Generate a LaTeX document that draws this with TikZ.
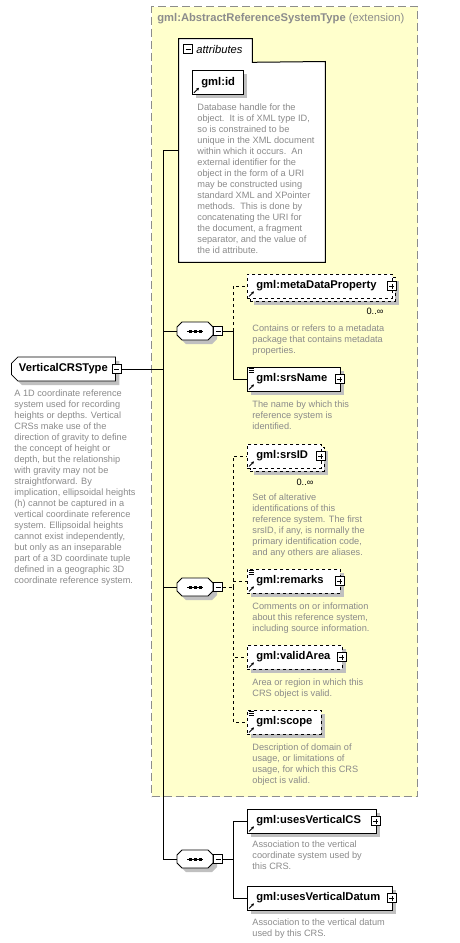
\documentclass[tikz,border=0pt]{standalone}
\usepackage{fontspec}
\setmainfont{Liberation Sans}
\usepackage{tikz}
\usetikzlibrary{arrows.meta,calc,fit,positioning,shapes.misc,shadows}
\definecolor{paleyellow}{HTML}{FFFFCC}
\definecolor{framegray}{HTML}{8C8C8C}
\definecolor{notegray}{HTML}{8A8A8A}
\definecolor{shadowgray}{HTML}{C0C0C0}
\newcommand\lblfont{\fontsize{11.2}{13}\selectfont\bfseries}
\newcommand\notefont{\fontsize{9.2}{11}\selectfont}

\begin{document}
\begin{tikzpicture}[x=1pt,y=-1pt,line width=.8pt,
  shadowed/.style={drop shadow={shadow xshift=4pt,shadow yshift=-4pt,fill=shadowgray,opacity=1}},
  elem/.style={draw,fill=white,minimum height=24pt,inner xsep=9pt,inner ysep=0pt,
    anchor=west,align=left,font=\lblfont,text width=#1},
  optelem/.style={elem=#1,dashed},
  note/.style={anchor=north west,inner sep=0pt,align=left,font=\notefont,text=notegray},
  pmbox/.style={draw,fill=white,minimum size=9pt,inner sep=0pt,line width=.6pt},
  minusbox/.style={pmbox,path picture={\draw[line width=.6pt]
    ([xshift=2pt]path picture bounding box.west) -- ([xshift=-2pt]path picture bounding box.east);}},
  plusbox/.style={pmbox,path picture={\draw[line width=.6pt]
    ([xshift=2pt]path picture bounding box.west) -- ([xshift=-2pt]path picture bounding box.east)
    ([yshift=2pt]path picture bounding box.south) -- ([yshift=-2pt]path picture bounding box.north);}},
  seqbox/.style={minimum width=36pt,minimum height=18pt,inner sep=0pt},
  refarrow/.style={-{Stealth[length=3pt,width=3pt]},line width=.9pt}]
\useasboundingbox (0,0) rectangle (460,943);

\node[draw=framegray,dash pattern=on 8pt off 4pt,line width=1.2pt,fill=paleyellow,
  minimum width=266pt,minimum height=790pt,anchor=north west,inner sep=0pt] (ext) at (151,6) {};
\node[anchor=west,inner sep=0pt,font=\fontsize{11.2}{13}\selectfont,text=framegray] (title) at (157,19)
  {\textbf{gml:AbstractReferenceSystemType} (extension)};

\coordinate (sp) at (163,0);
\coordinate (br) at (233,0);

\node[fill=white,minimum width=146pt,minimum height=200pt,anchor=north west,inner sep=0pt] (attr) at (178.5,61.5) {};
\node[fill=white,minimum width=73pt,minimum height=23pt,anchor=north west,inner sep=0pt] (tab) at (178.5,38.5) {};
\draw[line width=1pt] (attr.south west) -- (tab.north west) -- (tab.north east) -- (tab.south east)
  -- (attr.north east) -- (attr.south east) -- cycle;
\node[fit=(tab)(attr),inner sep=0pt] (attrall) {};
\node[minusbox] (tabm) at (188,49) {};
\node[anchor=west,inner sep=0pt,font=\fontsize{11.2}{13}\selectfont\itshape] (tabtxt) at (196,49) {attributes};
\node[elem=33pt,shadowed,anchor=north west] (id) at (192,70) {gml:id};
\node[note] (idnote) at (197,103) {Database handle for the\\object.\ \ It is of XML type ID,\\so is constrained to be\\unique in the XML document\\within which it occurs.\ \ An\\external identifier for the\\object in the form of a URI\\may be constructed using\\standard XML and XPointer\\methods.\ \ This is done by\\concatenating the URI for\\the document, a fragment\\separator, and the value of\\the id attribute.};

\node[chamfered rectangle,chamfered rectangle corners={north west,south west},chamfered rectangle xsep=3pt,
  draw,fill=white,minimum width=104pt,minimum height=24pt,inner xsep=4pt,anchor=west,
  font=\lblfont,shadowed] (crs) at (11,369) {VerticalCRSType};
\node[minusbox] (crsm) at (116.5,369) {};
\node[note] (crsnote) at (14,389) {A 1D coordinate reference\\system used for recording\\heights or depths. Vertical\\CRSs make use of the\\direction of gravity to define\\the concept of height or\\depth, but the relationship\\with gravity may not be\\straightforward. By\\implication, ellipsoidal heights\\(h) cannot be captured in a\\vertical coordinate reference\\system. Ellipsoidal heights\\cannot exist independently,\\but only as an inseparable\\part of a 3D coordinate tuple\\defined in a geographic 3D\\coordinate reference system.};

\node[seqbox] (s1) at (195,331) {};
\node[seqbox] (s2) at (195,587) {};
\node[seqbox] (s3) at (195,859) {};
\foreach \s in {s1,s2,s3}{
  \draw[fill=white,shadowed] ([shift={(-18,-4)}]\s.center) -- ([shift={(-13,-9)}]\s.center)
    -- ([shift={(13,-9)}]\s.center) -- ([shift={(18,-4)}]\s.center) -- ([shift={(18,4)}]\s.center)
    -- ([shift={(13,9)}]\s.center) -- ([shift={(-13,9)}]\s.center) -- ([shift={(-18,4)}]\s.center) -- cycle;
  \draw[line width=.6pt] (\s.center) +(-8,0) -- +(8,0);
  \foreach \d in {-5,0,5}
    \fill ([xshift=\d]\s.center) +(-1.5,-1.5) rectangle +(1.5,1.5);
}
\node[minusbox] (s1m) at (218,331) {};
\node[minusbox] (s2m) at (218,587) {};
\node[minusbox] (s3m) at (218,859) {};

\node[optelem=127pt,shadowed] (metaback) at (250,289) {};
\node[optelem=127pt] (meta) at (247,286) {gml:metaDataProperty};
\node[inner sep=0pt,font=\notefont] (metamult) at (375,311) {0..∞};
\node[note] (metanote) at (252,324) {Contains or refers to a metadata\\package that contains metadata\\properties.};
\node[elem=75pt,shadowed] (srsname) at (247,379) {gml:srsName};
\node[note] (srsnamenote) at (252,400) {The name by which this\\reference system is\\identified.};

\node[optelem=56pt,shadowed] (srsidback) at (250,459) {};
\node[optelem=56pt] (srsid) at (247,456) {gml:srsID};
\node[inner sep=0pt,font=\notefont] (srsidmult) at (305,482) {0..∞};
\node[note] (srsidnote) at (252,493) {Set of alterative\\identifications of this\\reference system. The first\\srsID, if any, is normally the\\primary identification code,\\and any others are aliases.};
\node[optelem=75pt,shadowed] (remarks) at (247,581) {gml:remarks};
\node[note] (remarksnote) at (252,602) {Comments on or information\\about this reference system,\\including source information.};
\node[optelem=77pt,shadowed] (validarea) at (247,657) {gml:validArea};
\node[note] (validareanote) at (252,678) {Area or region in which this\\CRS object is valid.};
\node[optelem=56pt,shadowed] (scope) at (247,722) {gml:scope};
\node[note] (scopenote) at (252,743) {Description of domain of\\usage, or limitations of\\usage, for which this CRS\\object is valid.};

\node[elem=111pt,shadowed] (usesvcs) at (247,821) {gml:usesVerticalCS};
\node[note] (usesvcsnote) at (252,840) {Association to the vertical\\coordinate system used by\\this CRS.};
\node[elem=127pt,shadowed] (usesvd) at (247,898) {gml:usesVerticalDatum};
\node[note] (usesvdnote) at (252,918) {Association to the vertical datum\\used by this CRS.};

\foreach \n in {meta,srsname,srsid,remarks,validarea,usesvcs,usesvd}
  \node[plusbox] (p\n) at ([xshift=-1]\n.east) {};
\foreach \n in {id,meta,srsname,srsid,remarks,validarea,scope,usesvcs,usesvd}
  \draw[refarrow] ([shift={(2,-2)}]\n.south west) -- ++(5,-5);
\foreach \n in {srsname,remarks,scope}
  \foreach \k in {2,4,6}
    \draw[line width=.6pt] ([shift={(1.5,\k)}]\n.north west) -- ++(5,0);

\draw (crsm.east) -- (crsm.east -| sp);
\draw (attrall.west) -- (attrall.west -| sp) -- (s3.west -| sp) -- (s3.west);
\draw (s1.west -| sp) -- (s1.west);
\draw (s2.west -| sp) -- (s2.west);

\draw (s1m.east) -- (s1m.east -| br);
\draw[dashed] (s1m.east -| br) |- (meta.west);
\draw (s1m.east -| br) |- (srsname.west);
\draw[dashed] (s2m.east) -- (s2m.east -| br);
\foreach \n in {srsid,remarks,validarea,scope}
  \draw[dashed] (s2m.east -| br) |- (\n.west);
\draw (s3m.east) -- (s3m.east -| br);
\foreach \n in {usesvcs,usesvd}
  \draw (s3m.east -| br) |- (\n.west);
\end{tikzpicture}
\end{document}
